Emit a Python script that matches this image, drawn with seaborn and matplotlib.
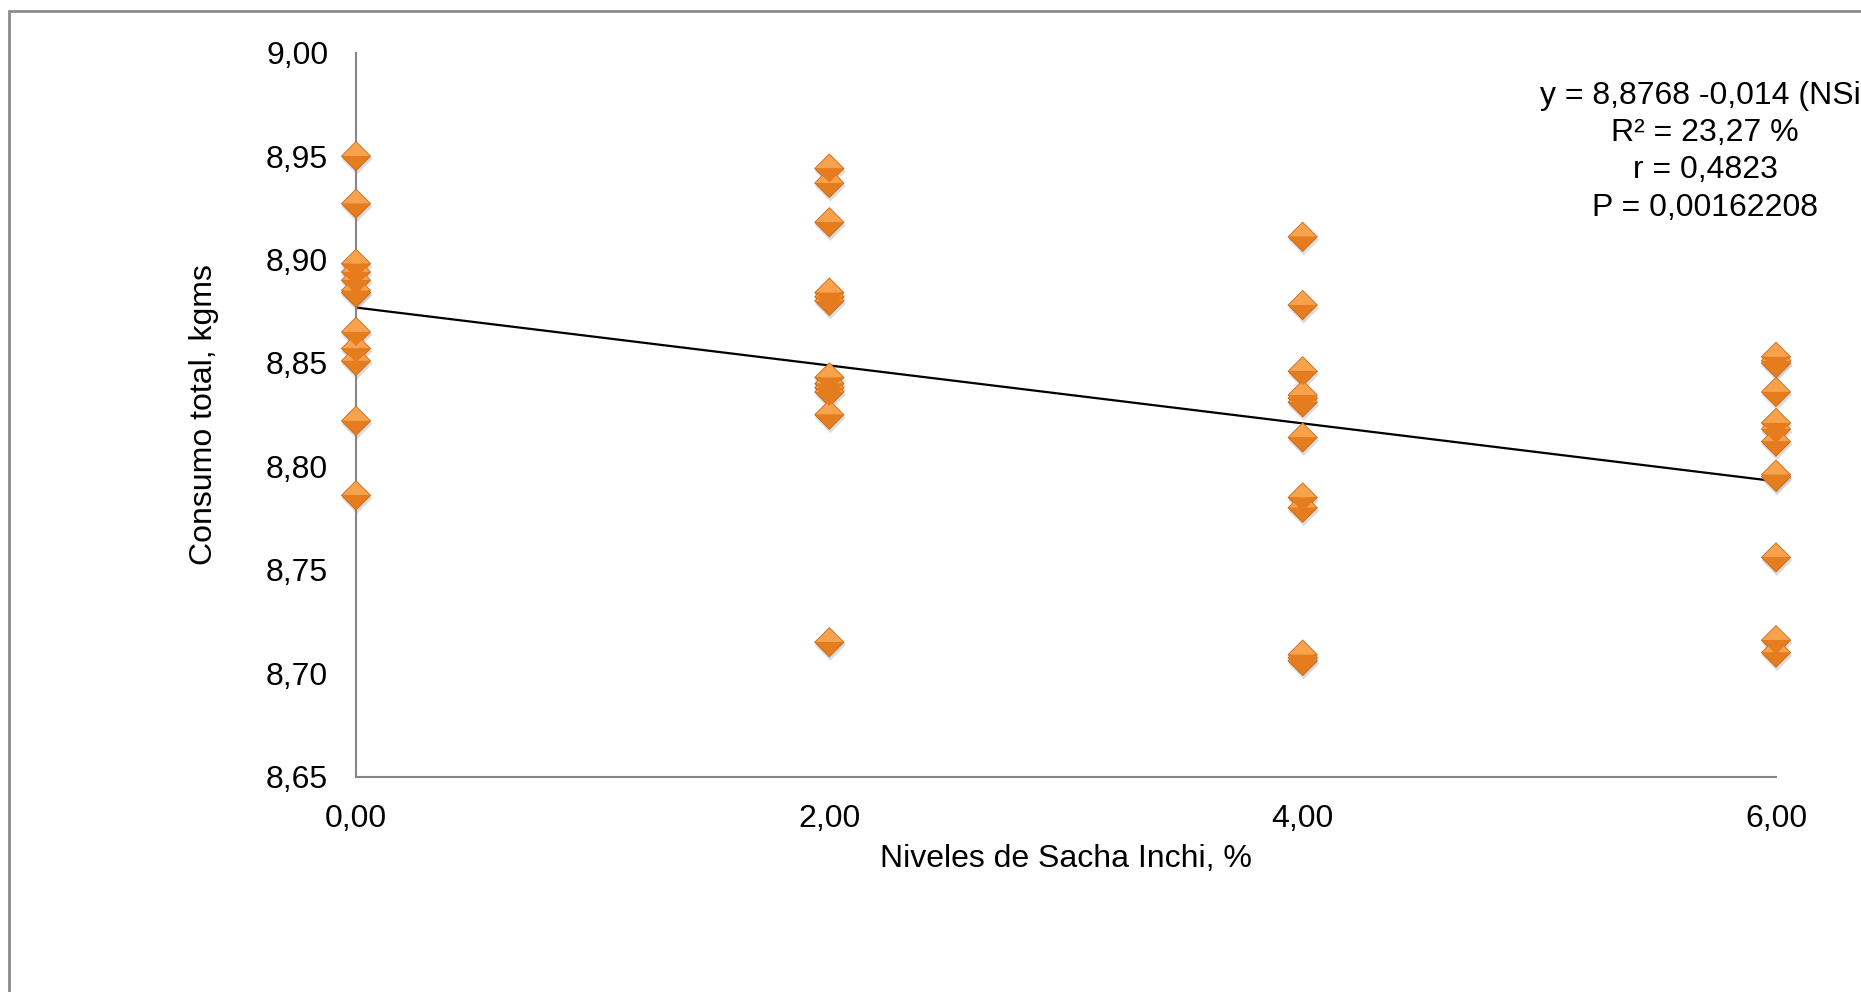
import matplotlib
matplotlib.use("Agg")
import matplotlib.pyplot as plt
from matplotlib.markers import MarkerStyle
from matplotlib.lines import Line2D
import matplotlib.transforms as mtransforms
import numpy as np
import pandas as pd
import seaborn as sns

# ---------------- data ----------------
niveles = [0.0, 2.0, 4.0, 6.0]
consumo_0 = [8.950, 8.927, 8.898, 8.894, 8.890, 8.885, 8.884, 8.865, 8.857, 8.851, 8.822, 8.786]
consumo_2 = [8.944, 8.937, 8.918, 8.884, 8.882, 8.880, 8.843, 8.840, 8.838, 8.836, 8.825, 8.715]
consumo_4 = [8.911, 8.878, 8.846, 8.8345, 8.833, 8.831, 8.814, 8.785, 8.780, 8.709, 8.7075, 8.706]
consumo_6 = [8.853, 8.851, 8.850, 8.836, 8.821, 8.818, 8.812, 8.796, 8.795, 8.756, 8.716, 8.710]

intercepto = 8.8768
pendiente = -0.014

x_ticks = [0.0, 2.0, 4.0, 6.0]
x_tick_labels = ["0,00", "2,00", "4,00", "6,00"]
y_ticks = [8.65, 8.70, 8.75, 8.80, 8.85, 8.90, 8.95, 9.00]
y_tick_labels = ["8,65", "8,70", "8,75", "8,80", "8,85", "8,90", "8,95", "9,00"]

eq_lines = ["y = 8,8768 -0,014 (NSi", "R² = 23,27 %", "r = 0,4823", "P = 0,00162208"]

x_label = "Niveles de Sacha Inchi, %"
y_label = "Consumo total, kgms"

# ---------------- build frame ----------------
grupos = [consumo_0, consumo_2, consumo_4, consumo_6]
df = pd.DataFrame({
    "nivel": np.concatenate([[n] * len(g) for n, g in zip(niveles, grupos)]),
    "consumo": np.concatenate(grupos),
})

sns.set_theme(style="white")
plt.rcParams["font.family"] = ["Liberation Sans", "DejaVu Sans"]
FS = 23

W, H = 1861, 992
fig = plt.figure(figsize=(W / 100, H / 100), dpi=100)
ax_l, ax_r, ax_t, ax_b = 356, 1776, 52.7, 776.7
ax = fig.add_axes([ax_l / W, 1 - ax_b / H, (ax_r - ax_l) / W, (ax_b - ax_t) / H])

# outer chart border (left and top visible)
fig.add_artist(Line2D([8.5 / W, 8.5 / W], [0, 1 - 11 / H], transform=fig.transFigure,
                      color="#8C8C8C", lw=2))
fig.add_artist(Line2D([8.5 / W, 1], [1 - 11 / H, 1 - 11 / H], transform=fig.transFigure,
                      color="#8C8C8C", lw=2))

# trend line
x_line = np.array([min(niveles), max(niveles)])
sns.lineplot(x=x_line, y=intercepto + pendiente * x_line, ax=ax, color="black",
             lw=1.6, zorder=2)

# soft drop shadow under the diamonds
sns.scatterplot(data=df, x="nivel", y="consumo", ax=ax,
                marker="D", s=250, color="#7a7a7a", alpha=0.25,
                edgecolor="none", linewidth=0, zorder=2.5, clip_on=False)
ax.collections[-1].set_offset_transform(
    mtransforms.offset_copy(ax.transData, fig=fig, x=1, y=-3, units="dots"))

# diamond markers: lighter top half, darker bottom half
sns.scatterplot(data=df, x="nivel", y="consumo", ax=ax,
                marker=MarkerStyle("D", fillstyle="full"), s=240,
                color="#C8661A", edgecolor="none", linewidth=0, zorder=3, clip_on=False)
sns.scatterplot(data=df, x="nivel", y="consumo", ax=ax,
                marker=MarkerStyle("D", fillstyle="top"), s=205,
                color="#F9A24C", edgecolor="none", linewidth=0, zorder=4, clip_on=False)
sns.scatterplot(data=df, x="nivel", y="consumo", ax=ax,
                marker=MarkerStyle("D", fillstyle="bottom"), s=205,
                color="#E57D1E", edgecolor="none", linewidth=0, zorder=4, clip_on=False)

ax.set_xlim(0, 6)
ax.set_ylim(8.65, 9.00)
ax.set_xticks(x_ticks, labels=x_tick_labels)
ax.set_yticks(y_ticks, labels=y_tick_labels)
ax.tick_params(axis="both", length=0, labelsize=FS, labelcolor="black", pad=20)

for side in ["top", "right"]:
    ax.spines[side].set_visible(False)
for side in ["left", "bottom"]:
    ax.spines[side].set_color("#868686")
    ax.spines[side].set_linewidth(1.5)
ax.grid(False)
ax.set_facecolor("white")

ax.set_xlabel(x_label, fontsize=FS, color="black")
ax.set_ylabel(y_label, fontsize=FS, color="black")
ax.xaxis.label.set_va("center")
ax.yaxis.label.set_va("center")
ax.xaxis.set_label_coords(0.5, -(859 - ax_b) / (ax_b - ax_t))
ax.yaxis.set_label_coords((204 - ax_l) / (ax_r - ax_l), 0.5)

# equation block
line_y = [95.7, 133.3, 170.5, 208.3]
fig.text(1540 / W, 1 - line_y[0] / H, eq_lines[0], ha="left", va="center",
         fontsize=FS, color="black")
for txt, yy in zip(eq_lines[1:], line_y[1:]):
    fig.text(1705 / W, 1 - yy / H, txt, ha="center", va="center",
             fontsize=FS, color="black")

fig.savefig("out.png", dpi=100, facecolor="white")
